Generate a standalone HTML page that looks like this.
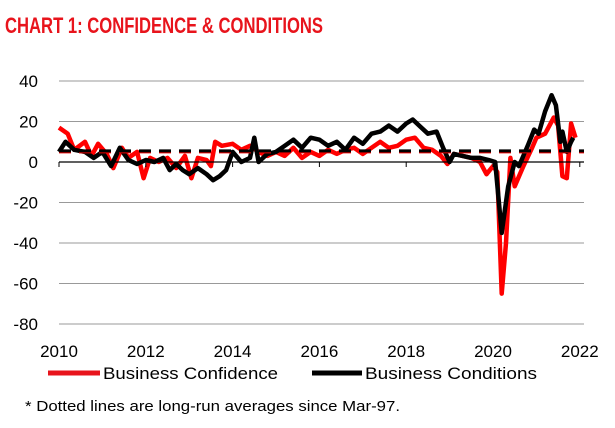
<!DOCTYPE html>
<html><head><meta charset="utf-8"><style>
body{margin:0;background:#fff;width:615px;height:423px;overflow:hidden;font-family:"Liberation Sans",sans-serif}
</style></head><body>
<svg width="615" height="423" viewBox="0 0 615 423">
<text x="5" y="33" fill="#e8141c" font-size="22" font-weight="bold" textLength="318" lengthAdjust="spacingAndGlyphs">CHART 1: CONFIDENCE &amp; CONDITIONS</text>
<g id="grid"></g><g id="series"></g><g id="axes"></g>
<g>
<line x1="48" y1="373" x2="100" y2="373" stroke="#e8141c" stroke-width="5"/>
<text x="103" y="379" font-size="17" textLength="175" lengthAdjust="spacingAndGlyphs">Business Confidence</text>
<line x1="312" y1="373" x2="362" y2="373" stroke="#000" stroke-width="5"/>
<text x="365" y="379" font-size="17" textLength="172" lengthAdjust="spacingAndGlyphs">Business Conditions</text>
</g>
<text x="25" y="411" font-size="15" textLength="375" lengthAdjust="spacingAndGlyphs">* Dotted lines are long-run averages since Mar-97.</text>
</svg>
<script>
const yTicks=[40,20,0,-20,-40,-60,-80];
const xTicks=[2010,2012,2014,2016,2018,2020,2022];
const confX=[2010.0,2010.2,2010.35,2010.6,2010.75,2010.9,2011.1,2011.25,2011.45,2011.6,2011.8,2011.95,2012.1,2012.3,2012.5,2012.7,2012.9,2013.05,2013.2,2013.4,2013.5,2013.6,2013.75,2014.0,2014.2,2014.4,2014.6,2014.8,2015.0,2015.2,2015.4,2015.6,2015.8,2016.0,2016.2,2016.4,2016.6,2016.8,2017.0,2017.2,2017.4,2017.6,2017.8,2018.0,2018.2,2018.4,2018.6,2018.8,2018.95,2019.1,2019.3,2019.5,2019.7,2019.85,2020.0,2020.1,2020.2,2020.3,2020.4,2020.5,2020.7,2020.9,2021.0,2021.2,2021.4,2021.5,2021.6,2021.7,2021.8,2021.9];
const confY=[17,14,6,10,3,9,4,-3,7,2,5,-8,2,0,2,-3,3,-8,2,1,-2,10,8,9,6,8,5,3,5,3,7,2,5,3,6,4,6,7,4,7,10,7,8,11,12,7,6,3,-1,4,3,2,0,-6,-2,-5,-65,-40,2,-12,-2,7,12,14,22,18,-7,-8,19,12];
const condX=[2010.0,2010.15,2010.35,2010.6,2010.8,2011.0,2011.2,2011.4,2011.6,2011.8,2012.0,2012.2,2012.4,2012.55,2012.7,2012.85,2013.0,2013.2,2013.4,2013.55,2013.7,2013.85,2014.0,2014.2,2014.4,2014.5,2014.6,2014.8,2015.0,2015.2,2015.4,2015.6,2015.8,2016.0,2016.2,2016.4,2016.6,2016.8,2017.0,2017.2,2017.4,2017.6,2017.8,2018.0,2018.15,2018.3,2018.5,2018.7,2018.85,2019.0,2019.1,2019.3,2019.5,2019.7,2019.9,2020.05,2020.2,2020.35,2020.5,2020.6,2020.8,2020.95,2021.05,2021.2,2021.35,2021.45,2021.55,2021.6,2021.7,2021.8,2021.85];
const condY=[5,10,6,5,2,5,-2,7,1,-1,1,0,2,-4,-1,-4,-6,-3,-6,-9,-7,-4,5,0,2,12,0,4,5,8,11,7,12,11,8,10,6,12,9,14,15,18,15,19,21,18,14,15,7,0,4,3,2,2,1,0,-35,-12,0,-2,8,16,14,25,33,28,10,15,5,10,12];
const confAvg=5.5, condAvg=5.5;
const NS="http://www.w3.org/2000/svg";
const sx=v=>59+(v-2010)*43.4;
const sy=v=>162-v*2.025;
function mk(t,a,p){const e=document.createElementNS(NS,t);for(const k in a)e.setAttribute(k,a[k]);p.appendChild(e);return e;}
const grid=document.getElementById('grid'),axes=document.getElementById('axes'),ser=document.getElementById('series');
yTicks.forEach(v=>{
 if(v!==0){const l=mk('line',{x1:59,x2:584,y1:sy(v),y2:sy(v),stroke:'#999','stroke-width':1},grid);
 
 }
 const t=mk('text',{x:38,y:sy(v)+6,'text-anchor':'end','font-size':17},axes);t.textContent=v;
 
 
});
const z=mk('line',{x1:59,x2:584,y1:sy(0),y2:sy(0),stroke:'#000','stroke-width':1.3},axes);


xTicks.forEach(v=>{
 const tk=mk('line',{x1:sx(v),x2:sx(v),y1:sy(0),y2:sy(0)+5,stroke:'#000'},axes);
 
 
 const t=mk('text',{x:sx(v),y:357,'text-anchor':'middle','font-size':17},axes);t.textContent=v;
 
 
});
function line(xs,ys,c,name){
 const d=xs.map((x,i)=>(i?'L':'M')+sx(x).toFixed(1)+','+sy(ys[i]).toFixed(1)).join('');
 const p=mk('path',{d:d,fill:'none',stroke:c,'stroke-width':4.5,'stroke-linejoin':'round'},ser);
 
 
}
line(confX,confY,'#ff0000','confidence-line');
line(condX,condY,'#000','conditions-line');
const a1=mk('line',{x1:59,x2:584,y1:sy(confAvg)+1,y2:sy(confAvg)+1,stroke:'#e00','stroke-width':3,'stroke-dasharray':'12,8'},ser);


const a2=mk('line',{x1:59,x2:584,y1:sy(condAvg),y2:sy(condAvg),stroke:'#000','stroke-width':3,'stroke-dasharray':'12,8'},ser);


</script>
</body></html>
